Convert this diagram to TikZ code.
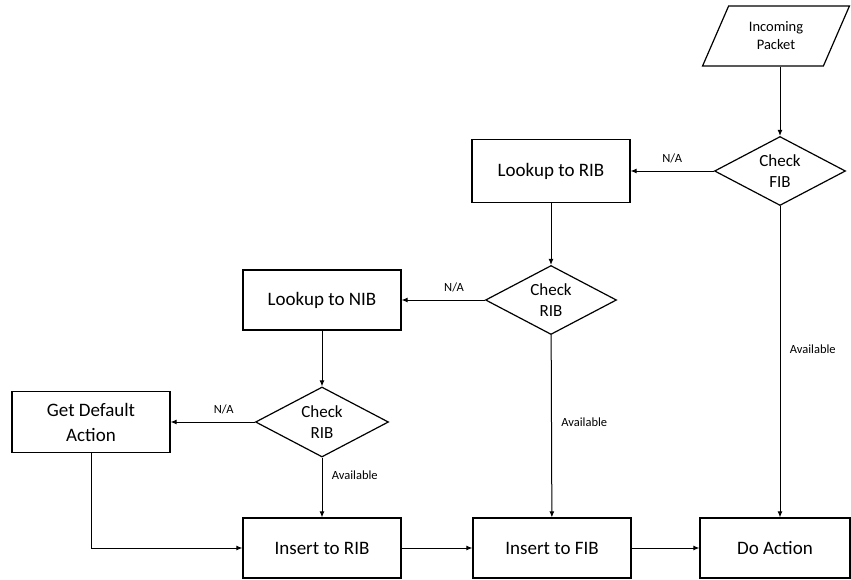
\documentclass[tikz,border=0pt]{standalone}
\usepackage{fontspec}
\setmainfont{Carlito}
\usetikzlibrary{positioning,arrows.meta,shapes.geometric}

\begin{document}
\begin{tikzpicture}[
    x=1pt, y=-1pt,
    >={Latex[length=6pt,width=5pt]},
    font=\fontsize{19}{25}\selectfont,
    proc/.style={draw, line width=1.2pt, rectangle, minimum width=158pt, minimum height=61pt, align=center, inner sep=0pt},
    test/.style={draw, line width=1.2pt, diamond, aspect=2, minimum width=131pt, minimum height=69pt, align=center, inner sep=0pt, font=\fontsize{17}{21}\selectfont},
    io/.style={draw, line width=1.2pt, trapezium, trapezium left angle=62, trapezium right angle=118, trapezium stretches=true, minimum width=148pt, minimum height=60pt, align=center, inner sep=0pt, font=\fontsize{14.5}{18}\selectfont},
    lbl/.style={font=\fontsize{12.5}{14}\selectfont},
    flow/.style={->, line width=1pt},
  ]
    \useasboundingbox (0,0) rectangle (851,579);

    \node[io] (pkt) at (776,36) {Incoming\\Packet};
    \node[test] (fib) at (780,171) {Check\\FIB};
    \node[proc, minimum height=63pt] (lrib) at (551,171) {Lookup to RIB};
    \node[test] (rib) at (551,300) {Check\\RIB};
    \node[proc, minimum height=60pt] (lnib) at (322,300) {Lookup to NIB};
    \node[test, minimum width=133pt, minimum height=70pt] (nib) at (322,422) {Check\\RIB};
    \node[proc] (dflt) at (91,422) {Get Default\\Action};
    \node[proc, minimum height=60pt] (irib) at (322,548) {Insert to RIB};
    \node[proc, minimum height=60pt] (ifib) at (552,548) {Insert to FIB};
    \node[proc, minimum width=150pt, minimum height=60pt] (act) at (775,548) {Do Action};

    \draw[flow] (pkt.south -| fib.north) -- (fib.north);
    \draw[flow] (fib.west) -- node[lbl, above=4pt] {N/A} (lrib.east);
    \draw[flow] (lrib) -- (rib);
    \draw[flow] (rib.west) -- node[lbl, above=4pt, pos=0.37] {N/A} (lnib.east);
    \draw[flow] (lnib) -- (nib);
    \draw[flow] (nib.west) -- node[lbl, above=4pt, pos=0.37] {N/A} (dflt.east);
    \draw[flow] (nib) -- node[lbl, right=6pt, pos=0.3] {Available} (irib);
    \draw[flow] (rib) -- node[lbl, right=6pt, pos=0.48] {Available} (ifib);
    \draw[flow] (fib) -- node[lbl, right=6pt, pos=0.46] {Available} (fib.south |- act.north);
    \draw[flow] (dflt.south) |- (irib.west);
    \draw[flow] (irib) -- (ifib);
    \draw[flow] (ifib) -- (act);
  \end{tikzpicture}
\end{document}
